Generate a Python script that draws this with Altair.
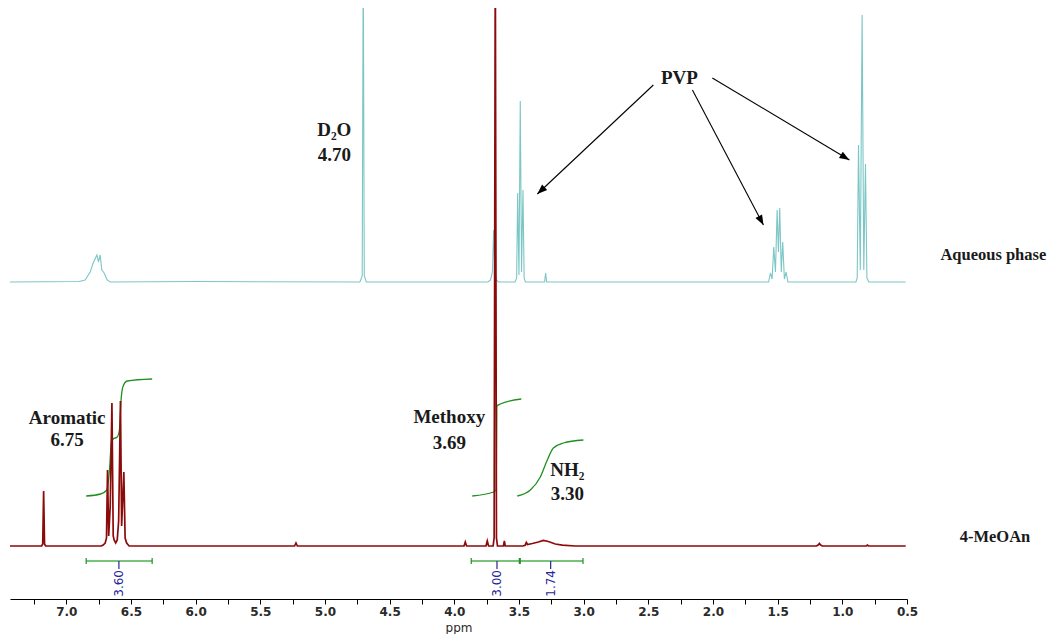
import math
import altair as alt
import pandas as pd

# ------------------------------------------------------------------
# Values
# ------------------------------------------------------------------
# Upper trace ("Aqueous phase"): chemical shift (ppm) and height above its own baseline
aq_ppm = [7.435, 6.900, 6.854, 6.815, 6.792, 6.763, 6.751, 6.738, 6.725, 6.707, 6.684, 6.660, 6.000,
          4.730, 4.712, 4.704, 4.696, 4.680,
          3.740, 3.720, 3.705, 3.696, 3.687, 3.675, 3.660,
          3.530, 3.518, 3.510, 3.500, 3.490, 3.480, 3.469, 3.460, 3.450,
          3.302, 3.294, 3.286,
          1.570, 1.556, 1.543, 1.530, 1.517, 1.504, 1.494, 1.484, 1.472, 1.461, 1.448, 1.435, 1.420,
          0.895, 0.885, 0.875, 0.861, 0.847, 0.834, 0.821, 0.810, 0.795, 0.510]
aq_int = [0, 0.5, 2, 10, 19, 27, 20, 27, 12, 9, 2, 0, 0.5,
          0, 6, 330, 6, 0,
          0, 2, 10, 52, 10, 2, 0,
          0, 4, 89, 7, 181, 10, 92, 4, 0,
          0, 9, 0,
          0, 9, 3, 35, 10, 72, 30, 74, 10, 40, 3, 10, 0,
          0, 4, 137, 12, 267, 12, 118, 4, 0, 0]

# Lower trace ("4-MeOAn")
meoan_ppm = [7.435, 7.190, 7.182, 7.175, 7.168, 7.160,
             6.730, 6.715, 6.699, 6.689, 6.681, 6.672, 6.660, 6.647, 6.637, 6.630, 6.618, 6.606,
             6.595, 6.581, 6.572, 6.555, 6.545, 6.533, 6.514,
             5.235, 5.224, 5.213,
             3.925, 3.915, 3.905,
             3.755, 3.745, 3.735,
             3.700, 3.692, 3.683, 3.674, 3.666,
             3.620, 3.613, 3.606,
             3.470, 3.452, 3.443, 3.434, 3.397, 3.350, 3.312, 3.273, 3.219, 3.165, 3.064,
             1.200, 1.185, 1.177, 1.170, 1.155,
             0.815, 0.806, 0.797, 0.510]
meoan_int = [0, 0, 2, 55, 2, 0,
             0, 1, 3, 8, 76, 10, 40, 143, 10, 6, 3, 6,
             25, 145, 20, 74, 8, 3, 0,
             0, 3, 0,
             0, 4, 0,
             0, 5, 0,
             0, 8, 600, 8, 0,
             0, 5, 0,
             0, 0.8, 3.5, 1.5, 2.5, 4, 5.5, 4.5, 2, 0.8, 0,
             0, 1.2, 2.5, 1.2, 0,
             0, 1.0, 0, 0]

# Integral curves (height above the lower trace baseline)
arom_curve_ppm = [6.846, 6.735, 6.686, 6.666, 6.650, 6.637, 6.606, 6.589, 6.575, 6.560, 6.529, 6.336]
arom_curve_val = [50, 52, 56, 76, 104, 107, 109, 116, 148, 160, 165, 167]
meth_curve_ppm = [3.861, 3.696, 3.677, 3.670, 3.644, 3.482]
meth_curve_val = [50, 54, 56, 140, 142, 147]
nh2_curve_ppm = [3.513, 3.412, 3.335, 3.281, 3.234, 3.157, 3.002]
nh2_curve_val = [50, 56, 69, 86, 98, 103, 106]

# Integral bars
int_start = [6.846, 3.869, 3.490]
int_end = [6.336, 3.497, 3.005]
int_mark = [6.593, 3.670, 3.255]
int_label = ["3.60", "3.00", "1.74"]

# Axis ticks
tick_values = [7.25, 7.0, 6.75, 6.5, 6.25, 6.0, 5.75, 5.5, 5.25, 5.0, 4.75, 4.5, 4.25, 4.0,
               3.75, 3.5, 3.25, 3.0, 2.75, 2.5, 2.25, 2.0, 1.75, 1.5, 1.25, 1.0, 0.75, 0.5]

# Annotations
ann_text = ["D₂O", "4.70", "PVP", "Aromatic", "6.75", "Methoxy", "3.69", "NH₂", "3.30"]
ann_ppm = [4.928, 4.928, 2.260, 6.993, 6.993, 4.039, 4.039, 3.126, 3.126]
ann_val = [469, 444, 521, 181, 159, 182, 156, 129, 105]

side_text = ["Aqueous phase", "4-MeOAn"]
side_ppm = [-0.577, -0.453]
side_val = [344, 62]

# Arrows from "PVP" (start ppm, start height, end ppm, end height)
arrow_p0 = [2.461, 2.159, 2.005]
arrow_v0 = [514, 509, 521]
arrow_p1 = [3.358, 1.610, 0.945]
arrow_v1 = [405, 374, 439]

# ------------------------------------------------------------------
# Layout / style
# ------------------------------------------------------------------
X_DOMAIN = [7.435, 0.5]
PLOT_W, PLOT_H = 897, 591
AQ_BASE = 317
RED_BASE = 53
BAR_LEVEL = 38
CYAN = "#7cc6c6"
RED = "#8b0a0a"
GREEN_CURVE = "#1f8f1f"
GREEN_BAR = "#4caf50"
BLUE = "#26269a"
SERIF = "Liberation Serif"
SANS = "DejaVu Sans"

PX_PER_PPM = PLOT_W / (X_DOMAIN[0] - X_DOMAIN[1])
PX_PER_UNIT = 1.0

xscale = alt.Scale(domain=X_DOMAIN, nice=False, zero=False)
yscale = alt.Scale(domain=[0, PLOT_H], nice=False, zero=False)

x_axis = alt.Axis(
    values=tick_values,
    labelExpr="(abs(datum.value*2 - round(datum.value*2)) < 0.001) ? format(datum.value, '.1f') : ''",
    title="ppm", grid=False, domainColor="black", domainWidth=1.2,
    tickColor="black", tickSize=5, tickWidth=1,
    labelFont=SANS, labelFontSize=12, labelFontWeight="bold", labelColor="#2a2a2a",
    labelPadding=2, labelOverlap=False, labelFlush=False,
    titleFont=SANS, titleFontSize=12, titleFontWeight="normal", titleColor="#2a2a2a",
    titlePadding=5,
)


def X(field):
    return alt.X(field, type="quantitative", scale=xscale, axis=x_axis, title="ppm")


def Y(field):
    return alt.Y(field, type="quantitative", scale=yscale, axis=None)


# ------------------------------------------------------------------
# Data frames
# ------------------------------------------------------------------
aq_df = pd.DataFrame({"ppm": aq_ppm, "y": [AQ_BASE + v for v in aq_int]})
red_df = pd.DataFrame({"ppm": meoan_ppm, "y": [RED_BASE + v for v in meoan_int]})

curve_rows = []
for g, pp, vv in [("arom", arom_curve_ppm, arom_curve_val),
                  ("meth", meth_curve_ppm, meth_curve_val),
                  ("nh2", nh2_curve_ppm, nh2_curve_val)]:
    for p, v in zip(pp, vv):
        curve_rows.append({"g": g, "ppm": p, "y": RED_BASE + v})
curve_df = pd.DataFrame(curve_rows)

bar_df = pd.DataFrame({"start": int_start, "end": int_end, "mid": int_mark, "label": int_label,
                       "level": BAR_LEVEL, "tick_end": BAR_LEVEL - 8, "text_y": BAR_LEVEL - 9})
end_rows = []
for s, e in zip(int_start, int_end):
    for p in (s, e):
        end_rows.append({"ppm": p, "y1": BAR_LEVEL - 3, "y2": BAR_LEVEL + 3})
end_df = pd.DataFrame(end_rows)

ann_df = pd.DataFrame({"text": ann_text, "ppm": ann_ppm, "y": ann_val})
side_df = pd.DataFrame({"text": side_text, "ppm": side_ppm, "y": side_val})

angles = []
for p0, v0, p1, v1 in zip(arrow_p0, arrow_v0, arrow_p1, arrow_v1):
    dx = (p0 - p1) * PX_PER_PPM
    dy = (v0 - v1) * PX_PER_UNIT
    angles.append(math.degrees(math.atan2(dx, -dy)) % 360)
arrow_df = pd.DataFrame({"p0": arrow_p0, "v0": arrow_v0, "p1": arrow_p1, "v1": arrow_v1, "ang": angles})

# ------------------------------------------------------------------
# Layers
# ------------------------------------------------------------------
aq_layer = alt.Chart(aq_df).mark_line(color=CYAN, strokeWidth=1.1, clip=True).encode(
    x=X("ppm"), y=Y("y"))

curve_layer = alt.Chart(curve_df).mark_line(color=GREEN_CURVE, strokeWidth=1.3,
                                            interpolate="monotone", clip=True).encode(
    x=X("ppm"), y=Y("y"), detail="g:N")

red_layer = alt.Chart(red_df).mark_line(color=RED, strokeWidth=1.7, clip=True).encode(
    x=X("ppm"), y=Y("y"))

bar_layer = alt.Chart(bar_df).mark_rule(color=GREEN_BAR, strokeWidth=1.4).encode(
    x=X("start"), x2="end:Q", y=Y("level"))

end_layer = alt.Chart(end_df).mark_rule(color=GREEN_CURVE, strokeWidth=1.2).encode(
    x=X("ppm"), y=Y("y1"), y2="y2:Q")

mark_layer = alt.Chart(bar_df).mark_rule(color=BLUE, strokeWidth=1.2).encode(
    x=X("mid"), y=Y("level"), y2="tick_end:Q")

label_layer = alt.Chart(bar_df).mark_text(angle=270, align="right", baseline="middle", color=BLUE,
                                          font=SANS, fontSize=12).encode(
    x=X("mid"), y=Y("text_y"), text="label:N")

ann_layer = alt.Chart(ann_df).mark_text(font=SERIF, fontWeight="bold", fontSize=19, color="#1a1a1a",
                                        align="center", baseline="middle").encode(
    x=X("ppm"), y=Y("y"), text="text:N")

side_layer = alt.Chart(side_df).mark_text(font=SERIF, fontWeight="bold", fontSize=16.5, color="#1a1a1a",
                                          align="right", baseline="middle").encode(
    x=X("ppm"), y=Y("y"), text="text:N")

arrow_line = alt.Chart(arrow_df).mark_rule(color="black", strokeWidth=1.1).encode(
    x=X("p0"), y=Y("v0"), x2="p1:Q", y2="v1:Q")

arrow_head = alt.Chart(arrow_df).mark_point(shape="M0,0L0.75,2L-0.75,2Z", filled=True, color="black",
                                            opacity=1, size=100, strokeWidth=0).encode(
    x=X("p1"), y=Y("v1"), angle=alt.Angle("ang:Q", scale=None))

chart = alt.layer(
    aq_layer, curve_layer, red_layer, bar_layer, end_layer, mark_layer, label_layer,
    ann_layer, side_layer, arrow_line, arrow_head,
).properties(
    width=PLOT_W, height=PLOT_H,
    autosize=alt.AutoSizeParams(type="none"),
    padding={"left": 2, "top": 0, "right": 141, "bottom": 35},
    background="white",
).configure_view(stroke=None)

chart.save("out.html", embed_options={"renderer": "svg", "actions": False})
